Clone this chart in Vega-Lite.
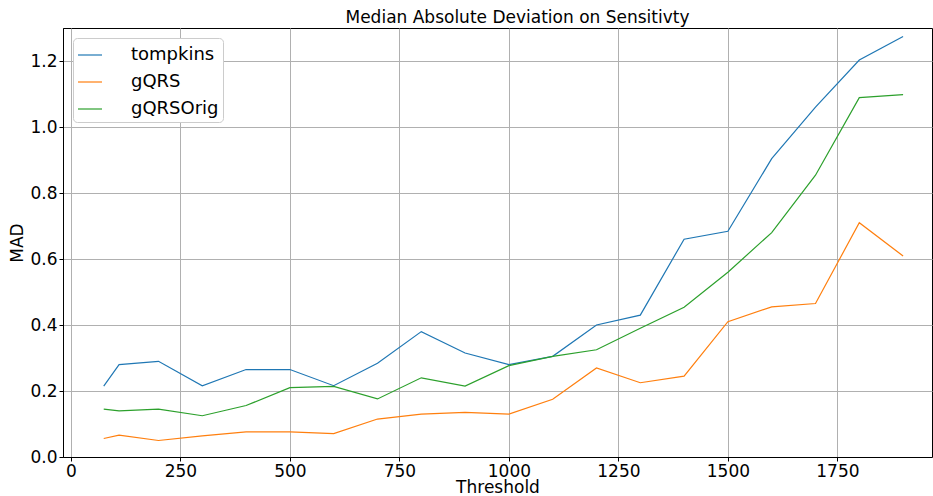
{
  "$schema": "https://vega.github.io/schema/vega-lite/v6.json",
  "width": 869,
  "height": 429,
  "autosize": {"type": "none"},
  "padding": {"left": 63, "top": 28, "right": 1, "bottom": 39},
  "background": "white",
  "config": {
    "font": "DejaVu Sans",
    "view": {"stroke": "black", "strokeWidth": 1},
    "axis": {
      "labelFont": "DejaVu Sans", "titleFont": "DejaVu Sans",
      "labelFontSize": 17, "titleFontSize": 17, "titleFontWeight": "normal",
      "labelColor": "black", "titleColor": "black",
      "domainColor": "black", "tickColor": "black", "tickSize": 4,
      "gridColor": "#b0b0b0", "gridWidth": 1, "gridOpacity": 1,
      "labelPadding": 2
    }
  },
  "title": {"text": "Median Absolute Deviation on Sensitivty", "fontSize": 17, "font": "DejaVu Sans", "fontWeight": "normal", "offset": 1, "dx": 20},
  "data": {"values": [
    {"t": 75, "s": "tompkins", "v": 0.215}, {"t": 110, "s": "tompkins", "v": 0.28}, {"t": 200, "s": "tompkins", "v": 0.29},
    {"t": 300, "s": "tompkins", "v": 0.216}, {"t": 400, "s": "tompkins", "v": 0.265}, {"t": 500, "s": "tompkins", "v": 0.265},
    {"t": 600, "s": "tompkins", "v": 0.216}, {"t": 700, "s": "tompkins", "v": 0.284}, {"t": 800, "s": "tompkins", "v": 0.38},
    {"t": 900, "s": "tompkins", "v": 0.315}, {"t": 1000, "s": "tompkins", "v": 0.28}, {"t": 1100, "s": "tompkins", "v": 0.305},
    {"t": 1200, "s": "tompkins", "v": 0.40}, {"t": 1300, "s": "tompkins", "v": 0.43}, {"t": 1400, "s": "tompkins", "v": 0.66},
    {"t": 1500, "s": "tompkins", "v": 0.684}, {"t": 1600, "s": "tompkins", "v": 0.904}, {"t": 1700, "s": "tompkins", "v": 1.06},
    {"t": 1800, "s": "tompkins", "v": 1.203}, {"t": 1900, "s": "tompkins", "v": 1.274},
    {"t": 75, "s": "gQRS", "v": 0.056}, {"t": 110, "s": "gQRS", "v": 0.066}, {"t": 200, "s": "gQRS", "v": 0.05},
    {"t": 300, "s": "gQRS", "v": 0.064}, {"t": 400, "s": "gQRS", "v": 0.076}, {"t": 500, "s": "gQRS", "v": 0.076},
    {"t": 600, "s": "gQRS", "v": 0.071}, {"t": 700, "s": "gQRS", "v": 0.115}, {"t": 800, "s": "gQRS", "v": 0.13},
    {"t": 900, "s": "gQRS", "v": 0.135}, {"t": 1000, "s": "gQRS", "v": 0.13}, {"t": 1100, "s": "gQRS", "v": 0.175},
    {"t": 1200, "s": "gQRS", "v": 0.27}, {"t": 1300, "s": "gQRS", "v": 0.225}, {"t": 1400, "s": "gQRS", "v": 0.245},
    {"t": 1500, "s": "gQRS", "v": 0.41}, {"t": 1600, "s": "gQRS", "v": 0.455}, {"t": 1700, "s": "gQRS", "v": 0.465},
    {"t": 1800, "s": "gQRS", "v": 0.71}, {"t": 1900, "s": "gQRS", "v": 0.609},
    {"t": 75, "s": "gQRSOrig", "v": 0.145}, {"t": 110, "s": "gQRSOrig", "v": 0.14}, {"t": 200, "s": "gQRSOrig", "v": 0.145},
    {"t": 300, "s": "gQRSOrig", "v": 0.125}, {"t": 400, "s": "gQRSOrig", "v": 0.156}, {"t": 500, "s": "gQRSOrig", "v": 0.21},
    {"t": 600, "s": "gQRSOrig", "v": 0.214}, {"t": 700, "s": "gQRSOrig", "v": 0.176}, {"t": 800, "s": "gQRSOrig", "v": 0.24},
    {"t": 900, "s": "gQRSOrig", "v": 0.215}, {"t": 1000, "s": "gQRSOrig", "v": 0.277}, {"t": 1100, "s": "gQRSOrig", "v": 0.305},
    {"t": 1200, "s": "gQRSOrig", "v": 0.325}, {"t": 1300, "s": "gQRSOrig", "v": 0.39}, {"t": 1400, "s": "gQRSOrig", "v": 0.454},
    {"t": 1500, "s": "gQRSOrig", "v": 0.56}, {"t": 1600, "s": "gQRSOrig", "v": 0.68}, {"t": 1700, "s": "gQRSOrig", "v": 0.854},
    {"t": 1800, "s": "gQRSOrig", "v": 1.089}, {"t": 1900, "s": "gQRSOrig", "v": 1.098}
  ]},
  "mark": {"type": "line", "strokeWidth": 1.2},
  "encoding": {
    "x": {"field": "t", "type": "quantitative", "title": "Threshold",
      "scale": {"domain": [-18, 1966], "nice": false, "zero": false},
      "axis": {"values": [0, 250, 500, 750, 1000, 1250, 1500, 1750], "format": "d", "titlePadding": 0}},
    "y": {"field": "v", "type": "quantitative", "title": "MAD",
      "scale": {"domain": [0, 1.3], "nice": false},
      "axis": {"values": [0, 0.2, 0.4, 0.6, 0.8, 1.0, 1.2], "format": ".1f", "titlePadding": 3}},
    "color": {"field": "s", "type": "nominal",
      "scale": {"domain": ["tompkins", "gQRS", "gQRSOrig"], "range": ["#1f77b4", "#ff7f0e", "#2ca02c"]},
      "legend": {"title": null, "orient": "none", "legendX": 10, "legendY": 10,
        "symbolType": "stroke", "symbolSize": 576, "symbolStrokeWidth": 1.2,
        "labelFontSize": 18, "labelFont": "DejaVu Sans", "labelColor": "black",
        "rowPadding": 5, "labelOffset": 28, "padding": 4,
        "fillColor": "white", "strokeColor": "#cccccc", "cornerRadius": 4}}
  }
}
